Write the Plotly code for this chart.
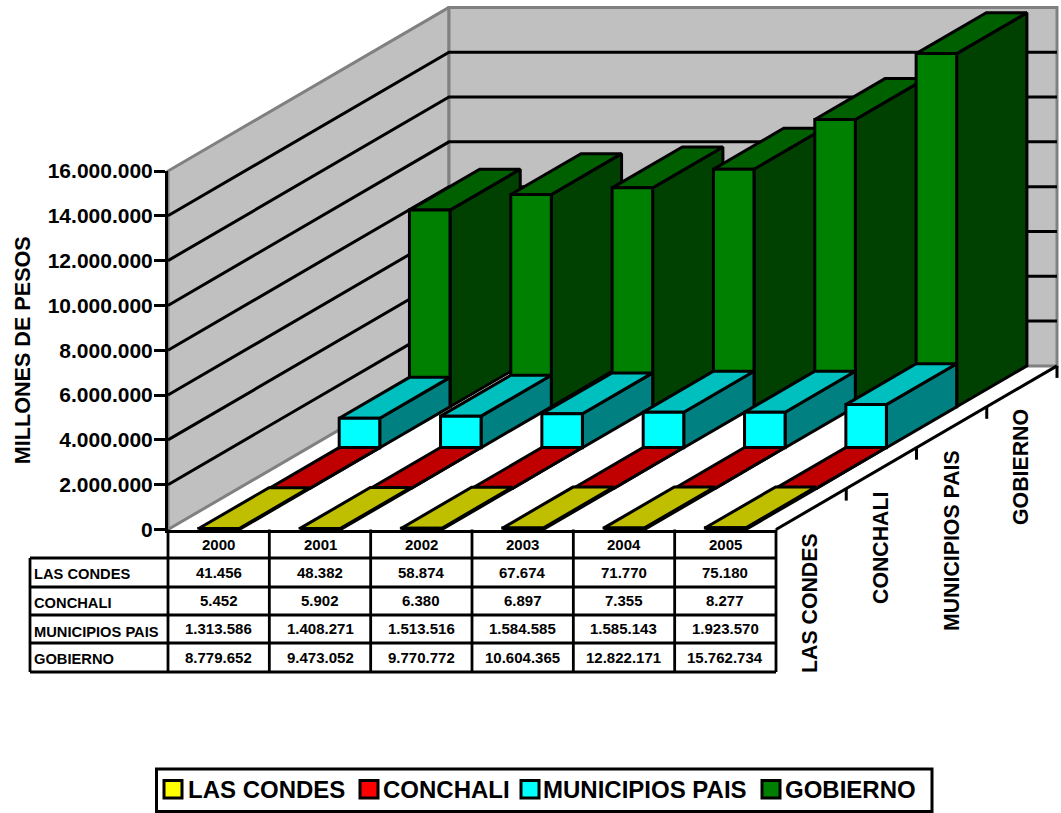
import plotly.graph_objects as go

# ---------- data ----------
years = ["2000", "2001", "2002", "2003", "2004", "2005"]
series_names = ["LAS CONDES", "CONCHALI", "MUNICIPIOS PAIS", "GOBIERNO"]
las_condes = [41456, 48382, 58874, 67674, 71770, 75180]
conchali = [5452, 5902, 6380, 6897, 7355, 8277]
municipios = [1313586, 1408271, 1513516, 1584585, 1585143, 1923570]
gobierno = [8779652, 9473052, 9770772, 10604365, 12822171, 15762734]
all_series = [las_condes, conchali, municipios, gobierno]
y_ticks = [0, 2000000, 4000000, 6000000, 8000000, 10000000, 12000000, 14000000, 16000000]
front_colors = ["#ffff00", "#ff0000", "#00ffff", "#008000"]
top_colors = ["#bfbf00", "#c00000", "#00bfbf", "#006000"]
side_colors = ["#808000", "#800000", "#008080", "#004000"]

# ---------- layout geometry ----------
W, H = 1061, 813
X0, X1 = 168.0, 776.0
Y0, Y16 = 529.5, 171.0
VMAX = y_ticks[-1]
CAT = (X1 - X0) / len(years)
PV = (Y0 - Y16) / VMAX
DX = 70.25 / CAT          # oblique shift per series, in category units
DY = 40.9 / PV            # oblique shift per series, in value units
BAR = 0.4
BAR0 = 0.303
NS = len(series_names)
NC = len(years)
BLACK = "#000000"
LW = 3
FONT = "Liberation Sans"


def px(x):
    return x / W


def py(y):
    return 1 - y / H


def bfont(size, color=BLACK):
    return dict(family=FONT, size=size, color=color, weight="bold")


fig = go.Figure()


def poly(xs, ys, fill, line=BLACK, width=LW):
    fig.add_trace(go.Scatter(
        x=list(xs) + [xs[0]], y=list(ys) + [ys[0]], mode="lines", fill="toself",
        fillcolor=fill, line=dict(color=line, width=width), hoverinfo="skip",
        showlegend=False, xaxis="x", yaxis="y"))


def segs(points, color=BLACK, width=LW):
    xs, ys = [], []
    for path in points:
        for p in path:
            xs.append(p[0])
            ys.append(p[1])
        xs.append(None)
        ys.append(None)
    fig.add_trace(go.Scatter(
        x=xs, y=ys, mode="lines", line=dict(color=color, width=width),
        hoverinfo="skip", showlegend=False, xaxis="x", yaxis="y"))


# walls and floor
bx, by = NS * DX, NS * DY
poly([0, NC, NC + bx, bx], [0, 0, by, by], "#ffffff", "#ffffff", 1)
poly([0, bx, bx, 0], [0, by, VMAX + by, VMAX], "#c0c0c0", "#808080", 3)
poly([bx, NC + bx, NC + bx, bx], [by, by, VMAX + by, VMAX + by], "#c0c0c0", "#808080", 3)

# gridlines
segs([[(0, v), (bx, v + by), (NC + bx, v + by)] for v in y_ticks[1:-1]])

# floor right edge and series ticks
segs([[(NC, 0), (NC + bx, by)]])
TICK = 12 / PV
segs([[(NC + k * DX, k * DY), (NC + k * DX, k * DY - TICK)] for k in range(1, NS + 1)])

# bars, back to front, left to right
for k in range(NS - 1, -1, -1):
    for c in range(NC):
        v = all_series[k][c]
        x = c + BAR0 + k * DX
        b = k * DY
        t = v + b
        # side
        poly([x + BAR, x + BAR + DX, x + BAR + DX, x + BAR], [b, b + DY, t + DY, t], side_colors[k])
        # top
        poly([x, x + BAR, x + BAR + DX, x + DX], [t, t, t + DY, t + DY], top_colors[k])
        # front
        poly([x, x + BAR, x + BAR, x], [b, b, t, t], front_colors[k])

# carrier for the visible value axis
fig.add_trace(go.Scatter(x=[None], y=[None], xaxis="x2", yaxis="y2", showlegend=False, hoverinfo="skip"))

# ---------- data table ----------
col_x = [X0 + i * CAT for i in range(NC + 1)]
T_LEFT = 30
row_y = [558, 587, 615, 643, 672]
H_TOP = Y0
shapes = []


def ln(x0, y0, x1, y1, w=2.8):
    shapes.append(dict(type="line", xref="paper", yref="paper", x0=px(x0), y0=py(y0), x1=px(x1), y1=py(y1),
                       line=dict(color=BLACK, width=w)))


for y in row_y:
    ln(T_LEFT, y, X1, y)
ln(T_LEFT, row_y[0], T_LEFT, row_y[-1])
for x in col_x:
    ln(x, H_TOP, x, row_y[-1])

ann = []


def txt(x, y, s, size, anchor="center", angle=0):
    ann.append(dict(xref="paper", yref="paper", x=px(x), y=py(y), text=s, showarrow=False,
                    xanchor=anchor, yanchor="middle", textangle=angle, font=bfont(size)))


def fmt(v):
    return f"{v:,}".replace(",", ".")


num_y = [572, 600, 628, 657]
lab_y = [574, 603, 632, 659]
for i, yr in enumerate(years):
    txt(col_x[i] + CAT / 2, 544, yr, 15)
for k, name in enumerate(series_names):
    txt(32, lab_y[k], name, 14.7, "left")
    for i in range(NC):
        txt(col_x[i] + CAT / 2, num_y[k], fmt(all_series[k][i]), 15)

# series labels under the depth axis
lab_x = [810, 881, 952, 1021]
lab_cy = [603, 548, 541, 467]
for name, x, y in zip(series_names, lab_x, lab_cy):
    txt(x, y, name, 21.3, angle=-90)

# legend panel
shapes.append(dict(type="rect", xref="paper", yref="paper", x0=px(156.5), x1=px(932), y0=py(769), y1=py(811.5),
                   fillcolor="#ffffff", line=dict(color=BLACK, width=3)))
leg_swatch = [164, 360, 521, 762]
leg_text = [185.5, 381, 541, 783]
for name, col, sx, tx in zip(series_names, front_colors, leg_swatch, leg_text):
    shapes.append(dict(type="rect", xref="paper", yref="paper", x0=px(sx), x1=px(sx + 18), y0=py(780.5), y1=py(798),
                       fillcolor=col, line=dict(color=BLACK, width=3)))
    txt(tx, 789, name, 24, "left")

fig.update_layout(
    width=W, height=H, margin=dict(l=0, r=0, t=0, b=0, pad=0, autoexpand=False),
    paper_bgcolor="#ffffff", plot_bgcolor="rgba(0,0,0,0)", showlegend=False,
    separators=",.", shapes=shapes, annotations=ann, hovermode=False,
    xaxis=dict(domain=[0, 1], range=[-X0 / CAT, (W - X0) / CAT], visible=False, anchor="y"),
    yaxis=dict(domain=[0, 1], range=[-(H - Y0) / PV, Y0 / PV], visible=False, anchor="x"),
    xaxis2=dict(domain=[px(X0), px(X1)], range=[0, NC], showticklabels=False, ticks="", showgrid=False,
                zeroline=False, showline=True, linecolor=BLACK, linewidth=3, anchor="y2"),
    yaxis2=dict(domain=[py(Y0), py(Y16)], range=[0, VMAX], tickvals=y_ticks, tickformat=",d",
                ticks="outside", ticklen=11, tickwidth=3, tickcolor=BLACK, showgrid=False, zeroline=False,
                showline=True, linecolor=BLACK, linewidth=3, anchor="x2", tickfont=bfont(21),
                ticklabelstandoff=-3,
                title=dict(text="MILLONES DE PESOS", font=bfont(21.6), standoff=12)),
)

fig.write_html("out.html", post_script="document.body.style.margin='0';",
               config={"displayModeBar": False})
